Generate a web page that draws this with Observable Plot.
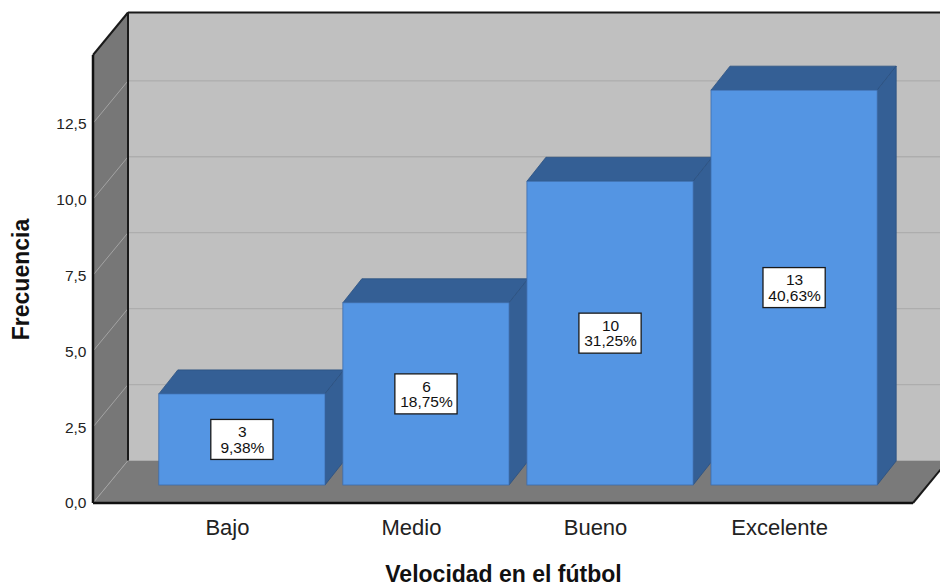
<!DOCTYPE html>
<html><head><meta charset="utf-8">
<script src="https://cdn.jsdelivr.net/npm/d3@7"></script>
<script src="https://cdn.jsdelivr.net/npm/@observablehq/plot@0.6"></script>
<style>body{margin:0;background:#fff} svg{display:block}</style>
</head><body><div id="chart"></div>
<script>
const categories = ["Bajo", "Medio", "Bueno", "Excelente"];
const counts = [3, 6, 10, 13];
const percents = [9.38, 18.75, 31.25, 40.63];
const yTicks = [0, 2.5, 5, 7.5, 10, 12.5];
const yMax = 14.75;
const xTitle = "Velocidad en el fútbol";
const yTitle = "Frecuencia";

const data = categories.map((c, i) => ({cat: c, n: counts[i], pct: percents[i]}));
const fmtTick = v => v.toFixed(1).replace(".", ",");
const fmtPct = v => v.toFixed(2).replace(".", ",") + "%";

const DX = 35, DY = -42.5;  // wall depth offset (px)
const BX = 15, BY = -18;    // bar front-face offset (px)
const TX = 19, TY = -24;    // bar depth (px)

const pts = a => a.map(p => p.join(",")).join(" ");

function walls(index, scales, values, dims) {
  const {x, y} = scales;
  const left = dims.marginLeft, right = dims.width - dims.marginRight;
  const y0 = y(0), yT = y(yMax);
  const g = d3.create("svg:g");
  const poly = (p, fill) => g.append("polygon").attr("points", pts(p)).attr("fill", fill);
  const line = (x1, y1, x2, y2, stroke, w) => g.append("line")
    .attr("x1", x1).attr("y1", y1).attr("x2", x2).attr("y2", y2)
    .attr("stroke", stroke).attr("stroke-width", w);
  poly([[left + DX, yT + DY], [right + DX, yT + DY], [right + DX, y0 + DY], [left + DX, y0 + DY]], "#c0c0c0");
  poly([[left, y0], [left, yT], [left + DX, yT + DY], [left + DX, y0 + DY]], "#777777");
  poly([[left, y0], [right, y0], [right + DX, y0 + DY], [left + DX, y0 + DY]], "#7a7a7a");
  for (const t of yTicks) {
    if (t > 0) line(left + DX, y(t) + DY, right + DX, y(t) + DY, "#adadad", 1.3);
    line(left, y(t), left + DX, y(t) + DY, "#a3a3a3", 1);
  }
  // edges
  line(left + DX, yT + DY, left + DX, y0 + DY, "#1a1a1a", 2);
  line(left + DX, yT + DY, right + DX, yT + DY, "#1a1a1a", 2);
  line(left, yT, left + DX, yT + DY, "#1a1a1a", 2);
  line(right, y0, right + DX, y0 + DY, "#1a1a1a", 2);
  line(left, yT, left, y0, "#111", 2.5);
  line(left, y0, right, y0, "#111", 2.5);
  return g.node();
}

function barDepth(index, scales, values, dims) {
  const {x, y} = scales;
  const bw = x.bandwidth();
  const g = d3.create("svg:g");
  for (const d of data) {
    const x0 = x(d.cat) + BX, x1 = x0 + bw;
    const yt = y(d.n) + BY, yb = y(0) + BY;
    g.append("polygon").attr("points", pts([[x0, yt], [x1, yt], [x1 + TX, yt + TY], [x0 + TX, yt + TY]]))
      .attr("fill", "#345f95").attr("stroke", "#2b5080").attr("stroke-width", 0.8);
    g.append("polygon").attr("points", pts([[x1, yt], [x1 + TX, yt + TY], [x1 + TX, yb + TY], [x1, yb]]))
      .attr("fill", "#345f95").attr("stroke", "#2b5080").attr("stroke-width", 0.8);
  }
  return g.node();
}

const chart = Plot.plot({
  width: 940,
  height: 587,
  marginLeft: 93,
  marginRight: 27,
  marginTop: 55,
  marginBottom: 84,
  style: {fontFamily: "'Liberation Sans', Arial, sans-serif", background: "white", overflow: "visible"},
  x: {type: "band", domain: categories, paddingInner: 0.097, paddingOuter: 0.276, align: 0.5, round: false, axis: null},
  y: {domain: [0, yMax], axis: null},
  marks: [
    walls,
    barDepth,
    Plot.barY(data, {x: "cat", y: "n", fill: "#5495e3", stroke: "#3d6cab", strokeWidth: 0.8, dx: BX, dy: BY}),
    Plot.barY(data, {x: "cat", y1: d => d.n / 2, y2: d => d.n / 2, fill: "white", stroke: "#1a1a1a", strokeWidth: 1.3,
      insetLeft: 52, insetRight: 52, insetTop: -20, insetBottom: -20, dx: BX, dy: BY}),
    Plot.text(data, {x: "cat", y: d => d.n / 2, text: d => `${d.n}\n${fmtPct(d.pct)}`, dx: BX, dy: BY,
      fontSize: 15.5, lineHeight: 1.0, fill: "#111"}),
    Plot.axisY({ticks: yTicks, tickFormat: fmtTick, tickSize: 0, tickPadding: 7, fontSize: 15.5, fill: "#222", label: null}),
    Plot.axisX({tickSize: 0, tickPadding: 16, fontSize: 22, fill: "#222", label: null}),
    Plot.text([xTitle], {text: d => d, frameAnchor: "bottom", lineAnchor: "middle", dy: 71, fontSize: 23, fontWeight: "bold", fill: "#111"}),
    Plot.text([yTitle], {text: d => d, frameAnchor: "left", textAnchor: "middle", lineAnchor: "middle", dx: -72, rotate: -90, fontSize: 23, fontWeight: "bold", fill: "#111"})
  ]
});
document.getElementById("chart").appendChild(chart);
</script>
</body></html>
